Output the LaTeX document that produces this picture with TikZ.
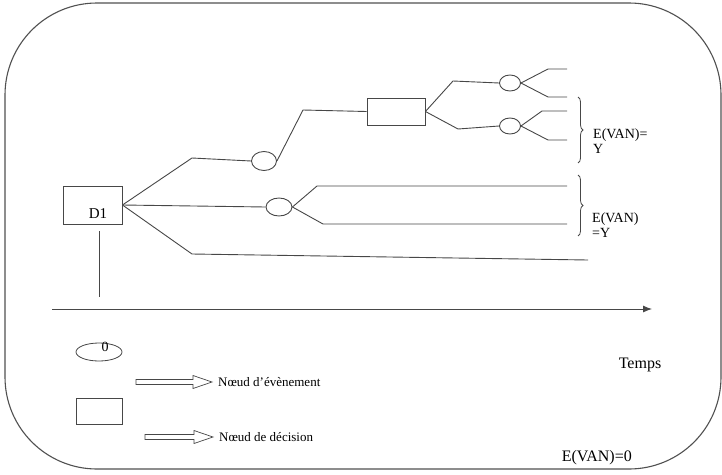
\documentclass[tikz,border=0pt]{standalone}
\usepackage{fontspec}
\setmainfont{Liberation Serif}
\usetikzlibrary{shapes.geometric,arrows.meta,decorations.pathreplacing}

\definecolor{ink}{HTML}{474747}
\definecolor{framecol}{HTML}{505050}

\tikzset{
  branch/.style={draw=ink, line width=0.9pt},
  decisionbox/.style={rectangle, draw=ink, line width=0.9pt, inner sep=0pt},
  chancenode/.style={ellipse, draw=ink, line width=0.9pt, inner sep=0pt},
  lbl/.style={font=\fontsize{13}{14}\selectfont, inner sep=0pt, text=black},
  bracebar/.style={draw=ink, line width=0.8pt, decorate, decoration={brace, amplitude=5pt}},
  hollowarrow/.style={draw=ink, line width=0.7pt, fill=white, line join=miter}
}

% hollow block arrow from #1 to #2 (horizontal)
\newcommand{\blockarrow}[2]{%
  \draw[hollowarrow] ($(#1)+(0,-2.5)$) -- ($(#2)+(-19,-2.5)$) -- ($(#2)+(-19,-6.5)$)
    -- (#2) -- ($(#2)+(-19,6.5)$) -- ($(#2)+(-19,2.5)$) -- ($(#1)+(0,2.5)$) -- cycle;}

\usetikzlibrary{calc}

\begin{document}
\begin{tikzpicture}[x=1pt, y=-1pt]
  \useasboundingbox (0,0) rectangle (722,474);

  % outer rounded frame
  \draw[framecol, line width=1.1pt, rounded corners=92pt] (5,3) rectangle (721,469);

  % decision node D1
  \node[decisionbox, minimum width=59pt, minimum height=38pt] (d1) at (92.5,205) {};
  \node[lbl, font=\fontsize{15}{16}\selectfont] (d1lbl) at (98,214) {D1};
  \coordinate (d1foot) at (99,231);
  \coordinate (d1base) at (99,297);
  \draw[branch] (d1foot) -- (d1base);

  % time axis
  \coordinate (t0) at (52,309);
  \coordinate (t1) at (652,309);
  \draw[ink, line width=0.9pt, -{Latex[length=9pt, width=7pt]}] (t0) -- (t1);

  % upper branch
  \node[chancenode, minimum width=25pt, minimum height=19pt] (c1) at (264,161) {};
  \coordinate (u1) at (192,158);
  \draw[branch] (d1.east) -- (u1) -- (c1.west);
  \node[decisionbox, minimum width=58pt, minimum height=27pt] (d2) at (396,111.5) {};
  \coordinate (u2) at (303,110);
  \draw[branch] (c1.east) -- (u2) -- (d2.west);

  \node[chancenode, minimum width=21pt, minimum height=16pt] (c2) at (510,83) {};
  \node[chancenode, minimum width=21pt, minimum height=16pt] (c3) at (510,126) {};
  \coordinate (u3) at (453,81);
  \coordinate (u4) at (458,129);
  \draw[branch] (d2.east) -- (u3) -- (c2.west);
  \draw[branch] (d2.east) -- (u4) -- (c3.west);

  \coordinate (e1a) at (548,69);  \coordinate (e1b) at (567,69);
  \coordinate (e2a) at (548,97);  \coordinate (e2b) at (567,97);
  \coordinate (e3a) at (542,111); \coordinate (e3b) at (567,111);
  \coordinate (e4a) at (548,140); \coordinate (e4b) at (567,140);
  \draw[branch] (c2.east) -- (e1a) -- (e1b);
  \draw[branch] (c2.east) -- (e2a) -- (e2b);
  \draw[branch] (c3.east) -- (e3a) -- (e3b);
  \draw[branch] (c3.east) -- (e4a) -- (e4b);

  % middle branch
  \node[chancenode, minimum width=26pt, minimum height=18pt] (c4) at (279,207) {};
  \draw[branch] (d1.east) -- (c4.west);
  \coordinate (m1a) at (317,186); \coordinate (m1b) at (567,186);
  \coordinate (m2a) at (323,224); \coordinate (m2b) at (567,224);
  \draw[branch] (c4.east) -- (m1a) -- (m1b);
  \draw[branch] (c4.east) -- (m2a) -- (m2b);

  % lower branch
  \coordinate (l1) at (192,254);
  \coordinate (l2) at (588,260);
  \draw[branch] (d1.east) -- (l1) -- (l2);

  % braces with expected values
  \coordinate (b1t) at (578,97);  \coordinate (b1b) at (578,163);
  \draw[bracebar] (b1t) -- (b1b);
  \node[lbl, font=\fontsize{14}{15}\selectfont, anchor=west, align=left] (ev1) at (593,141) {E(VAN)=\\Y};
  \coordinate (b2t) at (578,175); \coordinate (b2b) at (578,236);
  \draw[bracebar] (b2t) -- (b2b);
  \node[lbl, font=\fontsize{14}{15}\selectfont, anchor=west, align=left] (ev2) at (592,225) {E(VAN)\\=Y};

  % legend
  \node[ellipse, draw=ink, line width=0.8pt, minimum width=46pt, minimum height=18pt, inner sep=0pt] (legc) at (99,352) {};
  \node[lbl, font=\fontsize{14}{15}\selectfont] (legczero) at (105,347) {0};
  \node[rectangle, draw=ink, line width=0.8pt, minimum width=46pt, minimum height=26pt, inner sep=0pt] (legd) at (99,411) {};

  \coordinate (a1s) at (136,382); \coordinate (a1e) at (212,382);
  \blockarrow{a1s}{a1e}
  \node[lbl, anchor=west] (legtxt1) at ($(a1e)+(6,0)$) {Nœud d'évènement};
  \coordinate (a2s) at (145,437); \coordinate (a2e) at (213,437);
  \blockarrow{a2s}{a2e}
  \node[lbl, anchor=west] (legtxt2) at ($(a2e)+(6,0)$) {Nœud de décision};

  \node[lbl, font=\fontsize{16}{17}\selectfont] (temps) at (640,365) {Temps};
  \node[lbl, font=\fontsize{16}{17}\selectfont, anchor=east] (evzero) at (632,458) {E(VAN)=0};
\end{tikzpicture}
\end{document}
